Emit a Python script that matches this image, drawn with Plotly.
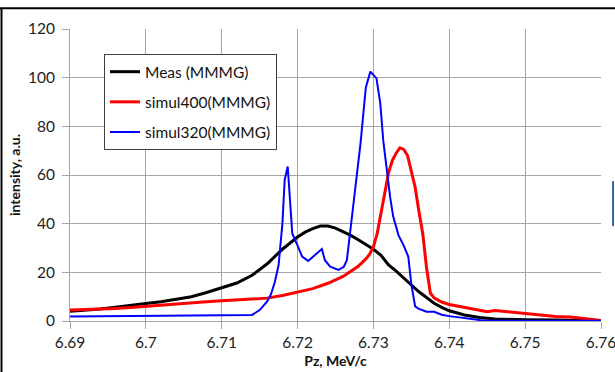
import plotly.graph_objects as go

# ---- data ----
meas_x = [6.690, 6.692, 6.694, 6.696, 6.698, 6.700, 6.702, 6.704, 6.706, 6.708,
          6.710, 6.712, 6.714, 6.716, 6.718, 6.720, 6.721, 6.722, 6.723, 6.724,
          6.725, 6.726, 6.727, 6.728, 6.729, 6.730, 6.731, 6.732, 6.733, 6.734,
          6.735, 6.736, 6.737, 6.738, 6.739, 6.740, 6.742, 6.744, 6.746, 6.748,
          6.750, 6.754, 6.758, 6.760]
meas_y = [4.0, 4.4, 4.9, 5.7, 6.6, 7.2, 7.9, 8.8, 10.0, 11.7,
          13.6, 15.6, 18.8, 23.5, 29.5, 34.5, 36.5, 38.0, 39.0, 39.0,
          38.2, 36.8, 35.2, 33.4, 31.5, 29.5, 27.0, 23.0, 20.5, 17.5,
          14.8, 12.0, 9.6, 7.3, 5.6, 4.2, 2.5, 1.4, 0.8, 0.6,
          0.5, 0.4, 0.3, 0.1]

s400_x = [6.690, 6.692, 6.694, 6.696, 6.698, 6.700, 6.702, 6.704, 6.706, 6.708,
          6.710, 6.712, 6.714, 6.716, 6.718, 6.720, 6.722, 6.724, 6.726, 6.728,
          6.729, 6.7295, 6.730, 6.7305, 6.731, 6.7315, 6.732, 6.7325, 6.733, 6.7335,
          6.734, 6.7345, 6.735, 6.7355, 6.736, 6.7365, 6.737, 6.7375, 6.738, 6.739,
          6.740, 6.742, 6.744, 6.745, 6.746, 6.748, 6.750, 6.752, 6.754, 6.756,
          6.758, 6.760]
s400_y = [4.5, 4.6, 4.8, 5.1, 5.5, 6.0, 6.6, 7.2, 7.6, 7.9,
          8.3, 8.6, 8.9, 9.4, 10.5, 12.0, 13.3, 15.5, 18.3, 22.5,
          25.5, 27.5, 30.5, 36.0, 44.0, 53.0, 61.0, 66.0, 69.0, 71.2,
          70.5, 68.0, 62.0, 55.0, 45.0, 36.0, 22.0, 11.5, 9.5, 7.8,
          6.8, 5.6, 4.6, 3.8, 4.3, 3.7, 3.0, 2.5, 1.9, 1.6,
          0.9, 0.2]

s320_x = [6.690, 6.693, 6.696, 6.700, 6.705, 6.710, 6.713, 6.714, 6.7145, 6.715,
          6.716, 6.7165, 6.717, 6.7175, 6.718, 6.7183, 6.7187, 6.719, 6.7193, 6.720,
          6.7206, 6.7214, 6.7223, 6.7232, 6.7236, 6.7243, 6.7254, 6.7261, 6.7265, 6.727,
          6.7276, 6.7283, 6.729, 6.7296, 6.7304, 6.7309, 6.7313, 6.7318, 6.7322, 6.7326,
          6.7333, 6.734, 6.7346, 6.735, 6.7355, 6.736, 6.737, 6.738, 6.739, 6.740,
          6.742, 6.744, 6.745, 6.750, 6.760]
s320_y = [1.9, 2.0, 1.9, 2.2, 2.3, 2.5, 2.5, 2.5, 3.5, 4.5,
          8.0, 11.0, 16.0, 23.0, 40.0, 58.0, 63.5, 50.0, 36.0, 31.0,
          26.5, 24.7, 27.0, 29.6, 25.0, 22.3, 21.0, 22.3, 25.0, 38.5,
          55.0, 73.0, 96.0, 102.5, 99.7, 89.5, 74.0, 60.7, 51.0, 43.0,
          35.3, 31.0, 26.4, 15.0, 6.0, 5.0, 3.8, 3.8, 2.6, 2.0,
          1.1, 0.4, 0.1, 0.1, 0.1]

x_ticks = [6.69, 6.70, 6.71, 6.72, 6.73, 6.74, 6.75, 6.76]
x_tick_labels = ["6.69", "6.7", "6.71", "6.72", "6.73", "6.74", "6.75", "6.76"]
y_ticks = [0, 20, 40, 60, 80, 100, 120]

FONT = "Lato"

fig = go.Figure()
fig.add_trace(go.Scatter(x=meas_x, y=meas_y, mode="lines", name="Meas (MMMG)",
                         line=dict(color="#000000", width=3), legendgroup="a"))
fig.add_trace(go.Scatter(x=s400_x, y=s400_y, mode="lines", name="simul400(MMMG)",
                         line=dict(color="#ff0000", width=3), legendgroup="b"))
fig.add_trace(go.Scatter(x=s320_x, y=s320_y, mode="lines", name="simul320(MMMG)",
                         line=dict(color="#0000ff", width=2), legendgroup="c"))

axis_common = dict(showgrid=True, gridcolor="#a6a6a6", gridwidth=1,
                   showline=True, linecolor="#a6a6a6", linewidth=1,
                   ticks="outside", ticklen=7, tickcolor="#a6a6a6",
                   zeroline=False, automargin=False, ticklabeloverflow="allow",
                   tickfont=dict(family=FONT, size=15.5, color="#222222"))

fig.update_xaxes(range=[6.69, 6.76], tickvals=x_ticks, ticktext=x_tick_labels,
                 title=dict(text="<b>Pz, MeV/c</b>", font=dict(family=FONT, size=14, color="#111111"),
                            standoff=6),
                 **axis_common)
fig.update_yaxes(range=[0, 120], tickvals=y_ticks, ticklabelstandoff=4,
                 title=dict(text="<b>intensity, a.u.</b>", font=dict(family=FONT, size=14, color="#111111"),
                            standoff=4),
                 **axis_common)

fig.update_layout(
    width=615, height=372,
    margin=dict(l=70, r=14, t=29, b=51),
    paper_bgcolor="white", plot_bgcolor="white",
    showlegend=True,
    legend=dict(x=0.064, y=0.914, xanchor="left", yanchor="top",
                bgcolor="white", bordercolor="#404040", borderwidth=1,
                font=dict(family=FONT, size=15.5, color="#111111"),
                tracegroupgap=7, itemwidth=30),
    shapes=[
        dict(type="line", xref="paper", yref="paper", x0=-0.135, x1=1.03, y0=1.071, y1=1.071,
             line=dict(color="#000000", width=2)),
        dict(type="line", xref="paper", yref="paper", x0=-0.129, x1=-0.129, y0=1.071, y1=-0.2,
             line=dict(color="#000000", width=2)),
        dict(type="line", xref="paper", yref="paper", x0=1.0226, x1=1.0226, y0=0.479, y1=0.325,
             line=dict(color="#3a6cb0", width=2)),
    ],
)

fig.write_html("out.html", config={"displayModeBar": False},
               post_script="document.body.style.margin='0';")
